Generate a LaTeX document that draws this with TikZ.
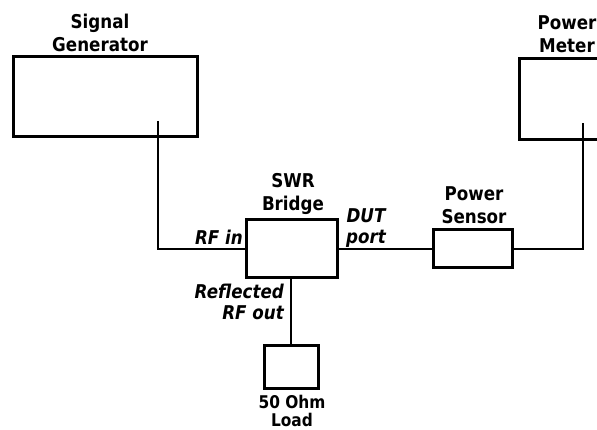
\documentclass[tikz,border=0pt]{standalone}
\usepackage{fontspec}
\setmainfont{DejaVu Sans}
\newfontfamily\lblfont[FakeStretch=0.88]{DejaVu Sans}
\begin{document}
\begin{tikzpicture}[x=1pt,y=-1pt,
  box/.style={draw,line width=3pt,inner sep=0pt},
  wire/.style={line width=2.4pt},
  lbl/.style={font=\lblfont\bfseries\fontsize{19}{23}\selectfont,inner sep=0pt,align=center},
  ilbl/.style={font=\lblfont\bfseries\itshape\fontsize{19}{21}\selectfont,inner sep=0pt,align=center}]
\useasboundingbox (0,0) rectangle (597,430);
\clip (0,0) rectangle (597,430);
% boxes
\node[box,minimum width=184pt,minimum height=80pt] (sg) at (105,97) {};
\node[box,minimum width=100pt,minimum height=81pt] (pm) at (569,99.5) {};
\node[box,minimum width=91pt,minimum height=58pt] (bridge) at (291.5,249) {};
\node[box,minimum width=79pt,minimum height=38pt] (sensor) at (472.5,249) {};
\node[box,minimum width=54pt,minimum height=43pt] (load) at (291,366.5) {};
% ports
\coordinate (sgport) at (158,121);
\coordinate (pmport) at (583,123);
% wires
\draw[wire] (sgport) |- (bridge.west);
\draw[wire] (bridge.east) -- (sensor.west);
\draw[wire] (sensor.east) -| (pmport);
\draw[wire] (bridge.south -| load.north) -- (load.north);
% labels
\node[lbl] (tsg) at (100,33) {Signal\\Generator};
\node[lbl] (tpm) at (567,34) {Power\\Meter};
\node[lbl] (tbr) at (293,194) {SWR\\Bridge};
\node[lbl] (tse) at (474,205) {Power\\Sensor};
\node[lbl,font=\lblfont\bfseries\fontsize{17.5}{18}\selectfont] (tld) at (292,410.5) {50 Ohm\\Load};
\node[ilbl] (tdut) at (366,228) {DUT\\port};
\node[ilbl,anchor=east] (trf) at (243,237) {RF in};
\node[ilbl,align=right,anchor=east] (trefl) at (284,302) {Reflected\\RF out};
\end{tikzpicture}
\end{document}
